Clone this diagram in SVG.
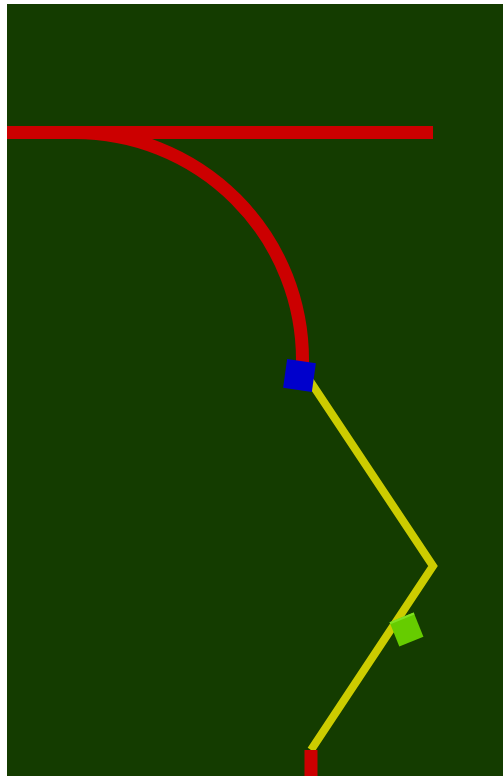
<svg xmlns="http://www.w3.org/2000/svg" width="503" height="776" viewBox="0 0 503 776">
<style>
.rail{fill:none;stroke:#cc0000;stroke-width:13}
.track{fill:none;stroke:#cccc00;stroke-width:8;stroke-linejoin:miter}
</style>
<rect x="0" y="0" width="503" height="776" fill="#ffffff"/>
<rect x="7" y="4" width="496" height="772" fill="#143c00"/>
<g id="connectors">
<line class="rail" x1="7" y1="132.5" x2="433" y2="132.5"/>
<path class="rail" d="M75,132.5 A227.5,227.5 0 0 1 302.5,360 L302.5,372"/>
<polyline class="track" points="306,375 433,566 311,750"/>
<line class="rail" x1="311" y1="750" x2="311" y2="776" stroke-width="12"/>
</g>
<g id="node-blue">
<rect x="-14.5" y="-14.5" width="29" height="29" fill="#0000cc" transform="translate(299.5,375.5) rotate(8)"/>
</g>
<g id="node-green">
<g transform="translate(406.5,629.5) rotate(-22)">
<rect x="-13" y="-13" width="26" height="26" fill="#66cc00"/>
<rect x="-13" y="-13" width="26" height="2" fill="#80e020"/>
</g>
</g>
</svg>
